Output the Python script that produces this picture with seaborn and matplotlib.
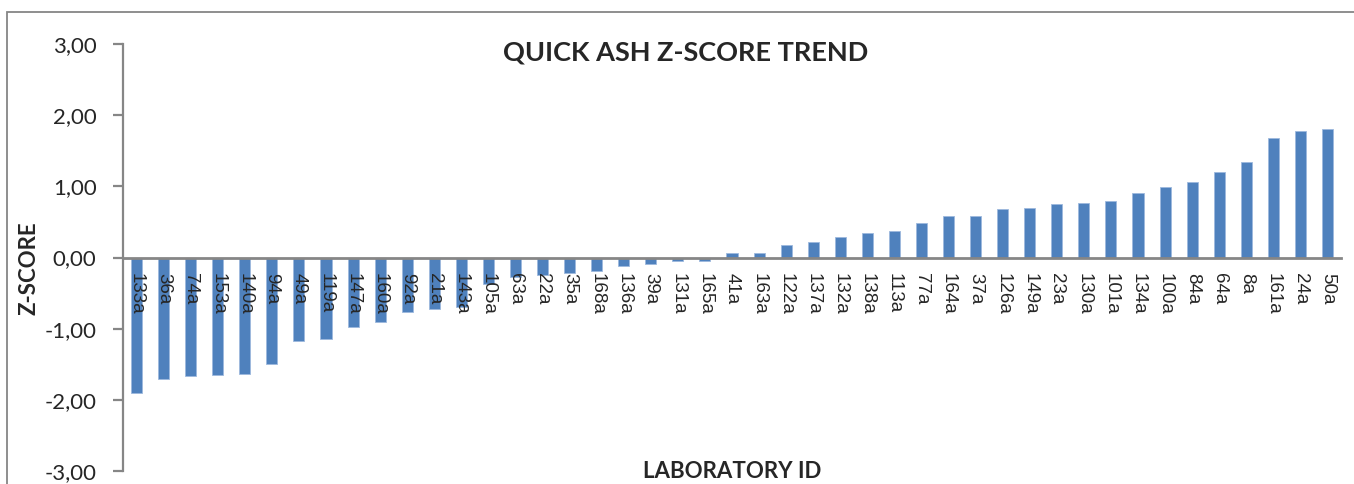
import matplotlib
matplotlib.use("Agg")
import matplotlib.pyplot as plt
import seaborn as sns
import pandas as pd
from matplotlib.patches import Rectangle

labs = ["133a", "36a", "74a", "153a", "140a", "94a", "49a", "119a", "147a", "160a",
        "92a", "21a", "143a", "105a", "63a", "22a", "35a", "168a", "136a", "39a",
        "131a", "165a", "41a", "163a", "122a", "137a", "132a", "138a", "113a", "77a",
        "164a", "37a", "126a", "149a", "23a", "130a", "101a", "134a", "100a", "84a",
        "64a", "8a", "161a", "24a", "50a"]
zscores = [-1.91, -1.71, -1.67, -1.65, -1.64, -1.50, -1.17, -1.15, -0.97, -0.91,
           -0.76, -0.73, -0.70, -0.37, -0.27, -0.24, -0.22, -0.19, -0.12, -0.09,
           -0.05, -0.045, 0.07, 0.07, 0.17, 0.22, 0.29, 0.34, 0.37, 0.49,
           0.58, 0.59, 0.68, 0.69, 0.75, 0.77, 0.80, 0.90, 0.99, 1.06,
           1.20, 1.34, 1.68, 1.78, 1.81]
yticks = [-3, -2, -1, 0, 1, 2, 3]
ytick_labels = ["-3,00", "-2,00", "-1,00", "0,00", "1,00", "2,00", "3,00"]
title = "QUICK ASH Z-SCORE TREND"
xlabel = "LABORATORY ID"
ylabel = "Z-SCORE"

sns.set_style("white")
plt.rcParams["font.family"] = ["Lato", "DejaVu Sans"]

W, H = 1354, 484
fig = plt.figure(figsize=(W / 100, H / 100), dpi=100)
ax = fig.add_axes([123 / W, 1 - 471 / H, (1341 - 123) / W, (471 - 44) / H])

df = pd.DataFrame({"lab": labs, "z": zscores})
sns.barplot(data=df, x="lab", y="z", order=labs, color="#4F81BD", width=0.41,
            saturation=1, edgecolor="#9DB9DE", linewidth=0.6, ax=ax)
ax.set_axisbelow(False)

for s in ["top", "right"]:
    ax.spines[s].set_visible(False)
ax.spines["left"].set_color("#868686")
ax.spines["left"].set_linewidth(1.6)
ax.spines["bottom"].set_position(("data", 0))
ax.spines["bottom"].set_color("#868686")
ax.spines["bottom"].set_linewidth(2)
ax.set_xlabel("")
ax.set_ylabel("")

ax.set_ylim(-3, 3)
ax.set_xlim(-0.5, len(labs) - 0.5)
ax.set_yticks(yticks)
ax.set_yticklabels(ytick_labels, fontsize=16)
ax.tick_params(axis="y", length=7, width=1.6, color="#868686", pad=12, direction="out", left=True)
ax.set_xticks(range(len(labs)))
ax.set_xticklabels(labs, rotation=-90, fontsize=13.5, family=["Liberation Sans", "DejaVu Sans"],
                   va="top", ha="center")
ax.tick_params(axis="x", length=0, pad=11)

fig.text(686 / W, 1 - 52 / H, title, ha="center", va="center", fontsize=19.5, fontweight="bold")
fig.text(732 / W, 1 - 472 / H, xlabel, ha="center", va="center", fontsize=16, fontweight="bold")
fig.text(29 / W, 1 - 268 / H, ylabel, ha="center", va="center", fontsize=16,
         fontweight="bold", rotation=90)

fig.patches.append(Rectangle((7 / W, -0.2), 2, (H - 12) / H + 0.2, transform=fig.transFigure,
                             fill=False, edgecolor="#868686", linewidth=1.3))

fig.savefig("out.png", dpi=100)
